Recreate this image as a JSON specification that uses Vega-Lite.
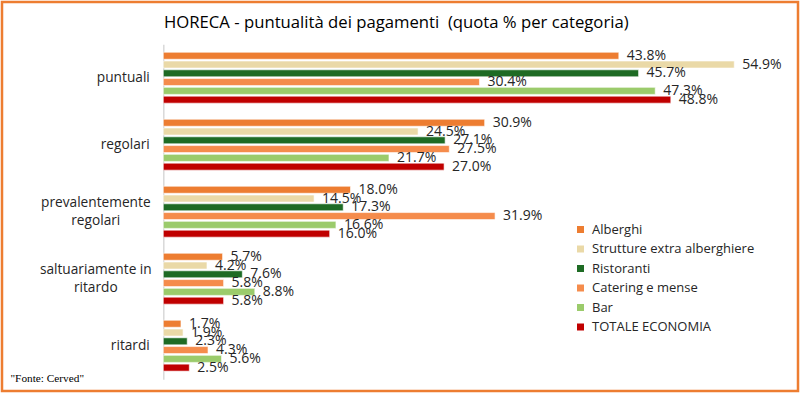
{
  "$schema": "https://vega.github.io/schema/vega-lite/v6.json",
  "width": 796,
  "height": 389,
  "autosize": {"type": "none"},
  "padding": 2,
  "background": "white",
  "config": {
    "view": {"stroke": "#ED7D31", "strokeWidth": 2.5, "fill": "white"},
    "font": "Open Sans"
  },
  "title": {
    "text": "HORECA - puntualità dei pagamenti \u00a0(quota % per categoria)",
    "anchor": "start",
    "frame": "group",
    "dx": 162,
    "offset": -30,
    "baseline": "top",
    "fontSize": 16.7,
    "fontWeight": "normal",
    "color": "#000000",
    "font": "Open Sans"
  },
  "data": {
    "values": [
      {"cat": "puntuali", "serie": "Alberghi", "v": 0.438},
      {"cat": "puntuali", "serie": "Strutture extra alberghiere", "v": 0.549},
      {"cat": "puntuali", "serie": "Ristoranti", "v": 0.457},
      {"cat": "puntuali", "serie": "Catering e mense", "v": 0.304},
      {"cat": "puntuali", "serie": "Bar", "v": 0.473},
      {"cat": "puntuali", "serie": "TOTALE ECONOMIA", "v": 0.488},
      {"cat": "regolari", "serie": "Alberghi", "v": 0.309},
      {"cat": "regolari", "serie": "Strutture extra alberghiere", "v": 0.245},
      {"cat": "regolari", "serie": "Ristoranti", "v": 0.271},
      {"cat": "regolari", "serie": "Catering e mense", "v": 0.275},
      {"cat": "regolari", "serie": "Bar", "v": 0.217},
      {"cat": "regolari", "serie": "TOTALE ECONOMIA", "v": 0.270},
      {"cat": "prevalentemente regolari", "serie": "Alberghi", "v": 0.180},
      {"cat": "prevalentemente regolari", "serie": "Strutture extra alberghiere", "v": 0.145},
      {"cat": "prevalentemente regolari", "serie": "Ristoranti", "v": 0.173},
      {"cat": "prevalentemente regolari", "serie": "Catering e mense", "v": 0.319},
      {"cat": "prevalentemente regolari", "serie": "Bar", "v": 0.166},
      {"cat": "prevalentemente regolari", "serie": "TOTALE ECONOMIA", "v": 0.160},
      {"cat": "saltuariamente in ritardo", "serie": "Alberghi", "v": 0.057},
      {"cat": "saltuariamente in ritardo", "serie": "Strutture extra alberghiere", "v": 0.042},
      {"cat": "saltuariamente in ritardo", "serie": "Ristoranti", "v": 0.076},
      {"cat": "saltuariamente in ritardo", "serie": "Catering e mense", "v": 0.058},
      {"cat": "saltuariamente in ritardo", "serie": "Bar", "v": 0.088},
      {"cat": "saltuariamente in ritardo", "serie": "TOTALE ECONOMIA", "v": 0.058},
      {"cat": "ritardi", "serie": "Alberghi", "v": 0.017},
      {"cat": "ritardi", "serie": "Strutture extra alberghiere", "v": 0.019},
      {"cat": "ritardi", "serie": "Ristoranti", "v": 0.023},
      {"cat": "ritardi", "serie": "Catering e mense", "v": 0.043},
      {"cat": "ritardi", "serie": "Bar", "v": 0.056},
      {"cat": "ritardi", "serie": "TOTALE ECONOMIA", "v": 0.025}
    ]
  },
  "encoding": {
    "y": {
      "field": "cat",
      "type": "nominal",
      "sort": ["puntuali", "regolari", "prevalentemente regolari", "saltuariamente in ritardo", "ritardi"],
      "scale": {"range": [42.2, 377.2], "paddingInner": 0.24, "paddingOuter": 0.12},
      "axis": {
        "orient": "left",
        "offset": -161.3,
        "title": null,
        "ticks": false,
        "grid": false,
        "domain": true,
        "domainColor": "#d9d9d9",
        "domainWidth": 1.5,
        "labelFontSize": 13.7,
        "labelColor": "#262626",
        "labelFont": "Open Sans",
        "labelLimit": 300,
        "labelLineHeight": 18,
        "labelAlign": {"condition": {"test": "indexof(datum.value, ' ') >= 0", "value": "center"}, "value": "right"},
        "labelPadding": {"condition": {"test": "indexof(datum.value, ' ') >= 0", "value": 68}, "value": 14},
        "labelOffset": {"condition": {"test": "indexof(datum.value, ' ') >= 0", "value": -9}, "value": 0},
        "labelExpr": "datum.value == 'prevalentemente regolari' ? ['prevalentemente', 'regolari'] : datum.value == 'saltuariamente in ritardo' ? ['saltuariamente in', 'ritardo'] : datum.value"
      }
    },
    "yOffset": {
      "field": "serie",
      "sort": ["Alberghi", "Strutture extra alberghiere", "Ristoranti", "Catering e mense", "Bar", "TOTALE ECONOMIA"],
      "scale": {"paddingInner": 0.2, "paddingOuter": 0}
    },
    "x": {
      "field": "v",
      "type": "quantitative",
      "scale": {"domain": [0, 0.6], "range": [161.3, 785.3]},
      "axis": {
        "orient": "bottom",
        "domain": false,
        "ticks": false,
        "labels": false,
        "grid": false,
        "title": "\"Fonte: Cerved\"",
        "titleX": 8,
        "titleY": -13,
        "titleAnchor": "start",
        "titleAlign": "left",
        "titleBaseline": "middle",
        "titleFont": "Liberation Serif",
        "titleFontSize": 11.3,
        "titleFontWeight": "normal",
        "titleColor": "#000000"
      }
    }
  },
  "layer": [
    {
      "mark": {"type": "bar", "stroke": "white", "strokeWidth": 0.6},
      "encoding": {
        "color": {
          "field": "serie",
          "type": "nominal",
          "sort": ["Alberghi", "Strutture extra alberghiere", "Ristoranti", "Catering e mense", "Bar", "TOTALE ECONOMIA"],
          "scale": {
            "domain": ["Alberghi", "Strutture extra alberghiere", "Ristoranti", "Catering e mense", "Bar", "TOTALE ECONOMIA"],
            "range": ["#ED7D31", "#EAD9A7", "#1E6B24", "#F58C4C", "#9BCB6B", "#C00000"]
          },
          "legend": {
            "orient": "none",
            "legendX": 572,
            "legendY": 221,
            "title": null,
            "symbolType": "square",
            "symbolSize": 49,
            "symbolStrokeWidth": 0,
            "labelFontSize": 13,
            "labelFont": "Open Sans",
            "labelColor": "#262626",
            "labelLimit": 300,
            "rowPadding": 5.5,
            "labelOffset": 5,
            "padding": 0
          }
        }
      }
    },
    {
      "mark": {"type": "text", "align": "left", "baseline": "middle", "dx": 8, "fontSize": 14, "color": "#262626", "font": "Open Sans"},
      "encoding": {
        "text": {"field": "v", "type": "quantitative", "format": ".1%"}
      }
    }
  ]
}
